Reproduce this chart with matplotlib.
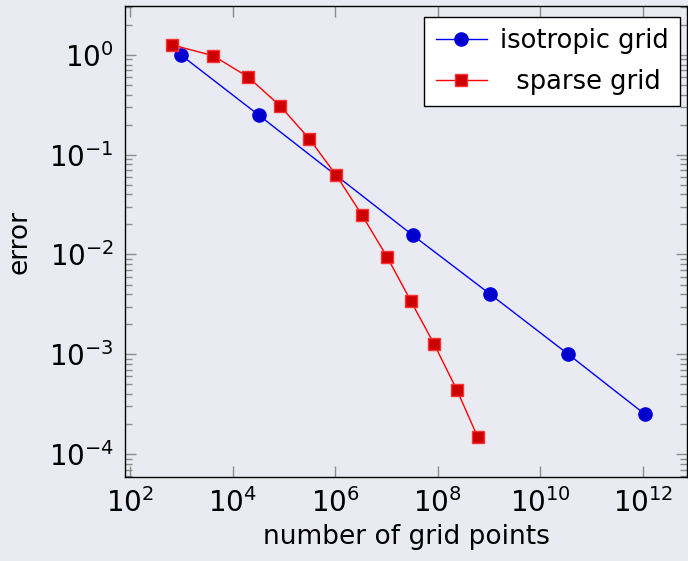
import numpy as np
import matplotlib.pyplot as plt
from matplotlib.ticker import LogLocator, NullLocator

# isotropic grid
iso_points = [1.0e3, 3.2e4, 3.3e7, 1.05e9, 3.5e10, 1.1e12]
iso_error = [0.99, 0.25, 0.0155, 0.0040, 0.0010, 0.00025]

# sparse grid
sparse_points = [6.6e2, 4.2e3, 2.0e4, 8.3e4, 3.1e5, 1.05e6, 3.3e6, 1.02e7,
                 3.0e7, 8.5e7, 2.35e8, 6.0e8]
sparse_error = [1.26, 0.98, 0.60, 0.31, 0.145, 0.062, 0.025, 0.0095,
                0.0034, 0.00126, 0.00044, 0.000148]

x_ticks = [1e2, 1e4, 1e6, 1e8, 1e10, 1e12]
y_ticks = [1e-4, 1e-3, 1e-2, 1e-1, 1e0]

bg = '#eaeaf2'
plt.rcParams['font.family'] = ['DejaVu Sans']
plt.rcParams['font.size'] = 18

fig = plt.figure(figsize=(6.88, 5.61), dpi=100, facecolor=bg)
ax = fig.add_axes([125/688, 1 - 477/561, 562/688, 471/561], facecolor=bg)

ax.plot(iso_points, iso_error, color='blue', lw=1, marker='o', markersize=9.5,
        markerfacecolor='#0000cc', markeredgecolor='#0000e6', label='isotropic grid')
ax.plot(sparse_points, sparse_error, color='red', lw=1, marker='s', markersize=9,
        markerfacecolor='#cc0000', markeredgecolor='#ff3030', label='  sparse grid')

ax.set_xscale('log')
ax.set_yscale('log')
ax.set_xlim(10**1.90, 10**12.86)
ax.set_ylim(10**-4.23, 10**0.49)

ax.set_xticks(x_ticks)
ax.xaxis.set_minor_locator(NullLocator())
ax.set_yticks(y_ticks)
ax.yaxis.set_minor_locator(LogLocator(base=10, subs=np.arange(2, 10)))

ax.tick_params(which='both', direction='in', top=True, right=True, color='#8c8c8c')
ax.tick_params(which='major', length=8, width=1, labelsize=20, pad=8)
ax.tick_params(which='minor', length=5, width=1)
for s in ax.spines.values():
    s.set_color('black')
    s.set_linewidth(1)

ax.set_xlabel('number of grid points', fontsize=19, labelpad=4)
ax.set_ylabel('error', fontsize=19, labelpad=12)

leg = ax.legend(loc='upper right', bbox_to_anchor=(0.988, 0.977), fontsize=18.5,
                fancybox=False, framealpha=1, edgecolor='black',
                handlelength=2.0, handletextpad=0.5, borderpad=0.45,
                labelspacing=0.55, borderaxespad=0)
leg.get_frame().set_linewidth(1)

fig.savefig('out.png', dpi=100, facecolor=bg)
